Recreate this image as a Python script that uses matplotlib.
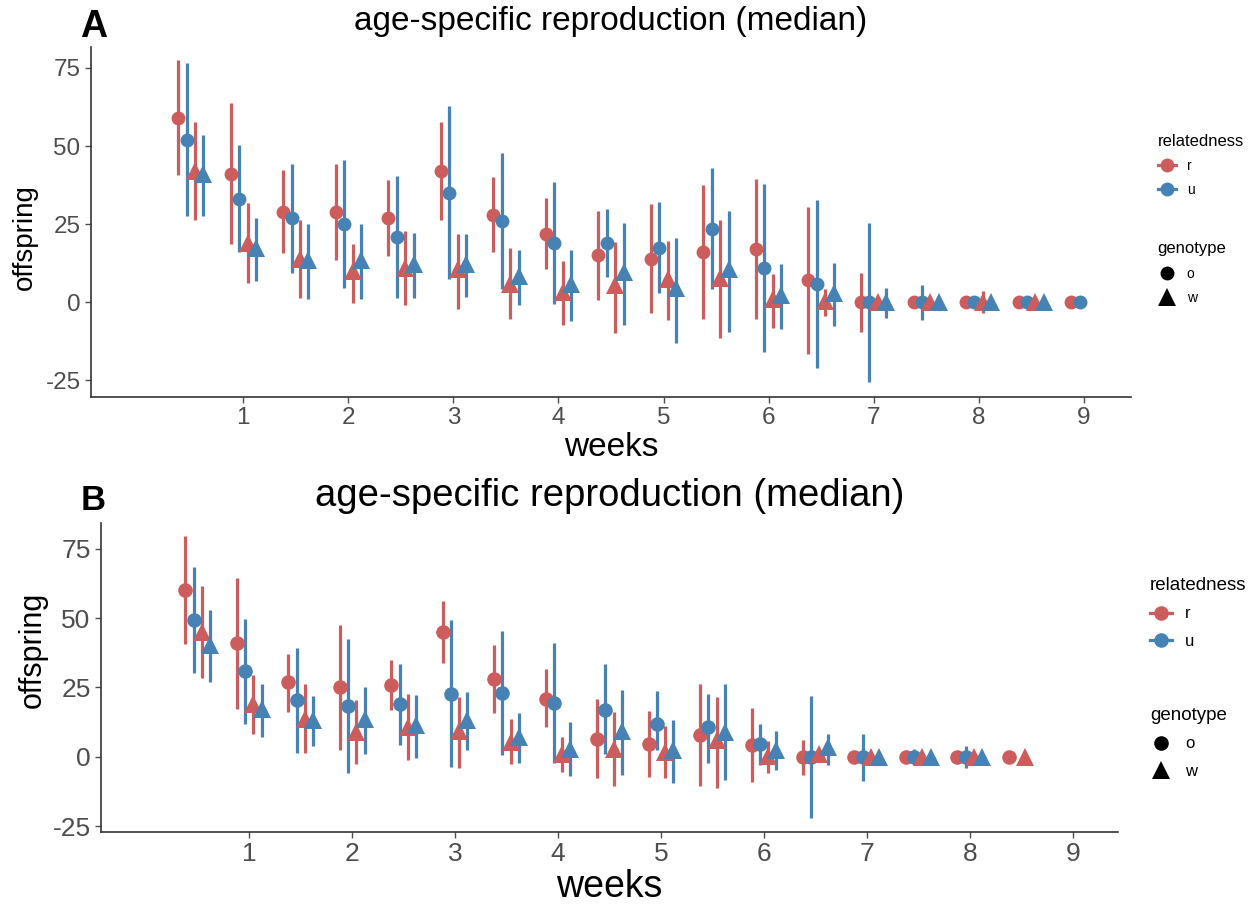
import numpy as np
import matplotlib
matplotlib.use("Agg")
import matplotlib.pyplot as plt
from matplotlib.lines import Line2D

plt.rcParams['font.family'] = ['Liberation Sans', 'DejaVu Sans']
plt.rcParams['axes.unicode_minus'] = False

nan = np.nan

# half-week sampling points
weeks = [0.5, 1.0, 1.5, 2.0, 2.5, 3.0, 3.5, 4.0, 4.5, 5.0, 5.5, 6.0, 6.5, 7.0, 7.5, 8.0, 8.5, 9.0]
xticks = [1, 2, 3, 4, 5, 6, 7, 8, 9]

# ---- panel A: median, lower, upper for each relatedness x genotype
a_ro_med = [59, 41, 29, 29, 27, 42, 28, 22, 15, 14, 16, 17, 7, 0, 0, 0, 0, 0]
a_ro_lo = [40.7, 18.6, 15.7, 13.6, 14.8, 26.4, 16.2, 10.6, 0.6, -3.5, -5.2, -5.4, -16.4, -9.5, 0, 0, 0, 0]
a_ro_hi = [77.6, 63.7, 42.4, 44.4, 39.2, 57.8, 40, 33.3, 29.3, 31.4, 37.5, 39.4, 30.4, 9.3, 0, 0, 0, 0]

a_uo_med = [52, 33, 27, 25, 21, 35, 26, 19, 19, 17.5, 23.6, 11, 5.8, 0, 0, 0, 0, 0]
a_uo_lo = [27.7, 16, 9.5, 4.7, 1.5, 7.4, 4.2, -0.4, 8.1, 3.1, 4.2, -15.9, -20.9, -25.5, -5.7, 0, 0, 0]
a_uo_hi = [76.6, 50.3, 44.4, 45.5, 40.4, 62.9, 47.8, 38.4, 29.8, 32, 42.9, 38, 32.8, 25.3, 5.4, 0, 0, 0]

a_rw_med = [42, 19, 14, 10, 11, 10.6, 6, 3.4, 5.4, 7.4, 7.9, 1, 0.5, 0, 0, 0, 0, nan]
a_rw_lo = [26.4, 6.3, 1.5, -0.1, -1, -2, -5.4, -7.4, -9.7, -5.7, -11.3, -8.1, -4.4, 0, 0, -3.5, 0, nan]
a_rw_hi = [57.8, 31.7, 26.4, 18.8, 22.9, 21.8, 17.3, 13.2, 19.4, 19.7, 26.4, 9, 4.4, 0, 0, 3.6, 0, nan]

a_uw_med = [41, 17.5, 13.6, 13.6, 12.2, 12.2, 8.4, 5.8, 9.7, 4.7, 10.6, 2.2, 3, 0, 0, 0, 0, nan]
a_uw_lo = [27.7, 6.8, 1, 1, 1.5, 1.8, -1, -6, -7.4, -12.9, -9.5, -8.4, -7.7, -4.9, 0, 0, 0, nan]
a_uw_hi = [53.5, 26.9, 25, 25, 22.3, 22, 16.8, 16.7, 25.3, 20.7, 29.3, 12.4, 12.5, 4.7, 0, 0, 0, nan]

# ---- panel B
b_ro_med = [60, 41, 27, 25, 26, 45, 28, 21, 6.6, 4.8, 7.8, 4.2, 0, 0, 0, 0, 0, nan]
b_ro_lo = [40.5, 17.4, 16.2, 2.4, 16.8, 33.9, 15.8, 10.6, -7.6, -7.2, -10.6, -9.2, -6.6, 0, 0, 0, 0, nan]
b_ro_hi = [79.6, 64.6, 37.2, 47.4, 34.8, 56.1, 40.2, 31.5, 21, 16.6, 26.2, 17.6, 6, 0, 0, 0, 0, nan]

b_uo_med = [49.5, 31, 20.4, 18.4, 18.9, 22.8, 23, 19.4, 16.8, 12, 10.6, 4.6, 0, 0, 0, 0, nan, nan]
b_uo_lo = [30.4, 12, 1.4, -5.8, 4.2, -3.6, 0.6, -2.4, 1.2, 2.4, -2.2, -3, -22.2, -8.6, -3, -4, nan, nan]
b_uo_hi = [68.4, 49.8, 39.4, 42.6, 33.6, 49.5, 45.3, 41.2, 33.3, 23.8, 22.8, 11.8, 22, 8.2, 3, 3.8, nan, nan]

b_rw_med = [45, 19.2, 13.5, 9, 10.8, 9.4, 5.4, 1.2, 2.7, 1.8, 6, 0.2, 1, 0, 0, 0, 0, nan]
b_rw_lo = [28.5, 8.4, 1.4, -2.7, -1, -4.2, -2.7, -5.4, -10.6, -7.6, -11.2, -6, 0, 0, 0, 0, 0, nan]
b_rw_hi = [61.5, 29.4, 26.4, 20.4, 22.6, 21.6, 13.5, 7, 16, 11, 21.6, 5.8, 0, 0, 0, 0, 0, nan]

b_uw_med = [40.2, 17.1, 13.2, 13.5, 11.4, 13.2, 7.2, 3, 9.3, 2.4, 9, 2.4, 3.6, 0, 0, 0, nan, nan]
b_uw_lo = [27, 7.2, 3.9, 1, -0.4, 2.4, -2.4, -7, -6.6, -9.6, -8.4, -4.8, -3, 0, 0, 0, nan, nan]
b_uw_hi = [53.1, 26.4, 21.9, 25, 22.2, 23.2, 15.8, 12.4, 24, 13.2, 26.2, 9.4, 8.4, 0, 0, 0, nan, nan]

red = '#CD5C5C'
blue = '#4682B4'
dodge = [-0.12, -0.04, 0.04, 0.12]
TRI = 1.3  # triangles look bigger than circles in ggplot


def draw_panel(ax, series, fs_tick, fs_title, fs_xlab, fs_ylab, ms):
    x = np.array(weeks)
    for (med, lo, hi, col, mk), dx in zip(series, dodge):
        med = np.array(med, float)
        lo = np.array(lo, float)
        hi = np.array(hi, float)
        ax.vlines(x + dx, lo, hi, color=col, lw=2.3, zorder=2)
        ax.plot(x + dx, med, ls='none', marker=mk, color=col,
                markersize=ms if mk == 'o' else ms * TRI, markeredgewidth=0, zorder=3)
    for s in ['top', 'right']:
        ax.spines[s].set_visible(False)
    for s in ['left', 'bottom']:
        ax.spines[s].set_color('#333333')
        ax.spines[s].set_linewidth(1.2)
    ax.set_xticks(xticks)
    ax.set_yticks([-25, 0, 25, 50, 75])
    ax.tick_params(colors='#4D4D4D', labelsize=fs_tick, length=4, width=1)
    ax.set_title('age-specific reproduction (median)', fontsize=fs_title, pad=12)
    ax.set_xlabel('weeks', fontsize=fs_xlab, labelpad=2)
    ax.set_ylabel('offspring', fontsize=fs_ylab)


def add_legends(fig, x0, y_rel, y_gen, fs_t, fs_l, ms, gap):
    h1 = [Line2D([], [], color=red, lw=2.3, marker='o', markersize=ms, markeredgewidth=0),
          Line2D([], [], color=blue, lw=2.3, marker='o', markersize=ms, markeredgewidth=0)]
    fig.legend(h1, ['r', 'u'], title='relatedness', loc='upper left',
               bbox_to_anchor=(x0, y_rel), frameon=False, fontsize=fs_l,
               title_fontsize=fs_t, handlelength=1.3, labelspacing=gap,
               alignment='left', handletextpad=0.8)
    h2 = [Line2D([], [], color='black', ls='none', marker='o', markersize=ms, markeredgewidth=0),
          Line2D([], [], color='black', ls='none', marker='^', markersize=ms * TRI, markeredgewidth=0)]
    fig.legend(h2, ['o', 'w'], title='genotype', loc='upper left',
               bbox_to_anchor=(x0, y_gen), frameon=False, fontsize=fs_l,
               title_fontsize=fs_t, handlelength=1.3, labelspacing=gap,
               alignment='left', handletextpad=0.8)


fig = plt.figure(figsize=(12.53, 9.05), dpi=100)
W, H = 1253, 905

axA = fig.add_axes([91 / W, 1 - 397 / H, (1131 - 91) / W, (397 - 47) / H])
axB = fig.add_axes([101 / W, 1 - 832 / H, (1118 - 101) / W, (832 - 523) / H])

draw_panel(axA, [(a_ro_med, a_ro_lo, a_ro_hi, red, 'o'),
                 (a_uo_med, a_uo_lo, a_uo_hi, blue, 'o'),
                 (a_rw_med, a_rw_lo, a_rw_hi, red, '^'),
                 (a_uw_med, a_uw_lo, a_uw_hi, blue, '^')],
           fs_tick=17.5, fs_title=24, fs_xlab=24, fs_ylab=20, ms=10)
axA.set_xlim(-0.45, 9.45)
axA.set_ylim(-30.3, 81.7)
axA.yaxis.set_label_coords(-0.051, 0.457)

draw_panel(axB, [(b_ro_med, b_ro_lo, b_ro_hi, red, 'o'),
                 (b_uo_med, b_uo_lo, b_uo_hi, blue, 'o'),
                 (b_rw_med, b_rw_lo, b_rw_hi, red, '^'),
                 (b_uw_med, b_uw_lo, b_uw_hi, blue, '^')],
           fs_tick=19, fs_title=27.5, fs_xlab=27, fs_ylab=22, ms=10.5)
axB.set_xlim(-0.44, 9.44)
axB.set_ylim(-27.1, 84.3)
axB.yaxis.set_label_coords(-0.052, 0.589)

fig.text(80 / W, 1 - 27 / H, 'A', fontsize=27, fontweight='bold', va='center', ha='left')
fig.text(81 / W, 1 - 500 / H, 'B', fontsize=25, fontweight='bold', va='center', ha='left')

add_legends(fig, 1145 / W, 1 - 121 / H, 1 - 229 / H, fs_t=12, fs_l=10, ms=10, gap=0.75)
add_legends(fig, 1135 / W, 1 - 562 / H, 1 - 692 / H, fs_t=13.5, fs_l=12, ms=10.5, gap=0.75)

fig.savefig('out.png', dpi=100)
